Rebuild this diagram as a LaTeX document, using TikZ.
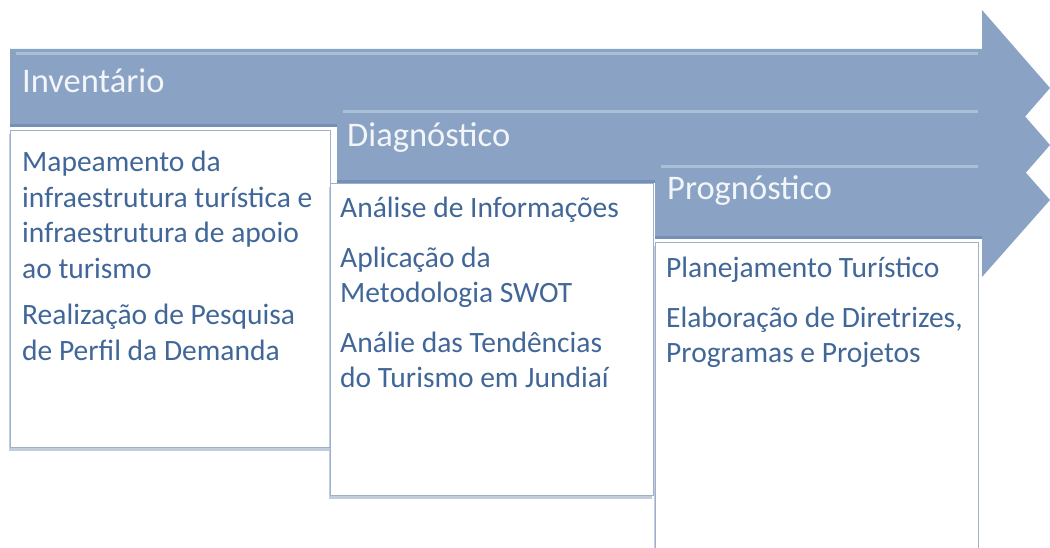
\documentclass[tikz,border=0pt]{standalone}
\usepackage{fontspec}
\setmainfont{Carlito}
\usetikzlibrary{shadows}
\definecolor{band}{HTML}{8AA3C4}
\definecolor{banddark}{HTML}{7690B5}
\definecolor{bandlight}{HTML}{B4C6DC}
\definecolor{bodytext}{HTML}{416799}
\definecolor{titletext}{HTML}{F2F5F9}
\definecolor{boxline}{HTML}{9DB1CB}
\begin{document}
\begin{tikzpicture}[x=1pt,y=-1pt,
  phasearrow/.style={fill=band, draw=none},
  toplight/.style={draw=bandlight, line width=3pt, opacity=0.8},
  botdark/.style={draw=banddark, line width=3pt},
  phasebox/.style={draw=boxline, line width=1.3pt, fill=white, anchor=north west,
    inner sep=0pt, drop shadow={shadow xshift=-1.5pt, shadow yshift=-3.5pt, opacity=0.45, fill=banddark}},
  titletxt/.style={anchor=base west, inner sep=0pt, text=titletext, font=\fontsize{34.5}{40}\selectfont},
  bodytxt/.style={anchor=base west, inner sep=0pt, text=bodytext}
]
\useasboundingbox (0,0) rectangle (1050,548);
\clip (0,0) rectangle (1050,548);
\fill[white] (0,0) rectangle (1050,548);

% ---- phase 1 ----
\path[phasearrow] (10,49) -- (982,49) -- (982,10) -- (1050,88) -- (982,166) -- (982,127) -- (10,127) -- cycle;
\draw[toplight] (16,54) -- (978,54);
\draw[botdark] (10,125.5) -- (982,125.5);
\node[phasebox, minimum width=320pt, minimum height=317pt] (box1) at (10,130) {};
\node[titletxt] (h1) at (22,93) {Inventário};
\node[bodytxt] (t1) at (22,172) {\parbox[t]{330pt}{\fontsize{29.5}{35.5}\selectfont\raggedright
  Mapeamento da\\ infraestrutura turística e\\ infraestrutura de apoio\\ ao turismo\\[11pt]
  Realização de Pesquisa\\ de Perfil da Demanda}};

% ---- phase 2 ----
\path[phasearrow] (337,107) -- (982,107) -- (982,67) -- (1050,145) -- (982,223) -- (982,183) -- (337,183) -- cycle;
\draw[toplight] (343,112) -- (978,112);
\draw[botdark] (337,181.5) -- (982,181.5);
\node[phasebox, minimum width=323pt, minimum height=312pt] (box2) at (330,183) {};
\node[titletxt] (h2) at (347,147) {Diagnóstico};
\node[bodytxt] (t2) at (340,218) {\parbox[t]{330pt}{\fontsize{29.5}{35.5}\selectfont\raggedright
  Análise de Informações\\[14pt] Aplicação da\\ Metodologia SWOT\\[14pt]
  Análie das Tendências\\ do Turismo em Jundiaí}};

% ---- phase 3 ----
\path[phasearrow] (655,162) -- (982,162) -- (982,123) -- (1050,200) -- (982,277) -- (982,239) -- (655,239) -- cycle;
\draw[toplight] (661,167) -- (978,167);
\draw[botdark] (655,237.5) -- (982,237.5);
\node[phasebox, minimum width=323pt, minimum height=312pt] (box3) at (655,242) {};
\node[titletxt] (h3) at (667,200) {Prognóstico};
\node[bodytxt] (t3) at (666,278) {\parbox[t]{330pt}{\fontsize{29.5}{35.5}\selectfont\raggedright
  Planejamento Turístico\\[14pt] Elaboração de Diretrizes,\\ Programas e Projetos}};
\end{tikzpicture}
\end{document}
